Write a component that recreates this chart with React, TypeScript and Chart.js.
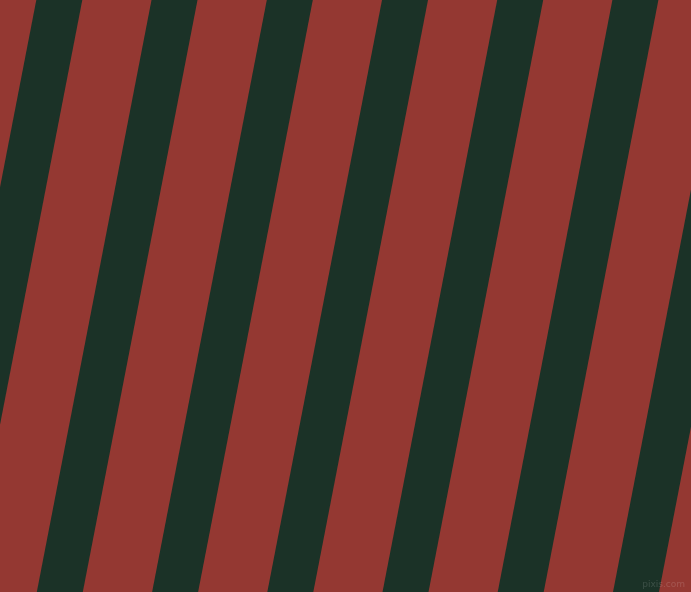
import React, { useEffect, useRef } from 'react';
import Chart, { ChartConfiguration, Plugin } from 'chart.js/auto';

// x position (px) of each green band's edges along the top row
const bandLeftTop = [-78.9, 36.3, 151.5, 266.8, 382.0, 497.2, 612.4, 727.7];
const bandRightTop = [-32.9, 82.3, 197.5, 312.8, 428.0, 543.2, 658.4, 773.7];
// how far every edge has drifted left by the bottom row
const bottomDrift = 114.7;
const rowLabels = [0, 592];
const watermark = 'pixis.com';

const RED = '#943832';
const GREEN = '#1b3227';

const watermarkPlugin: Plugin<'line'> = {
  id: 'watermark',
  afterDraw(chart) {
    const { ctx } = chart;
    ctx.save();
    ctx.font = '9px "DejaVu Sans", sans-serif';
    ctx.fillStyle = 'rgba(255,255,255,0.14)';
    ctx.textAlign = 'right';
    ctx.textBaseline = 'alphabetic';
    ctx.fillText(watermark, 685, 587);
    ctx.restore();
  },
};

const StripeChart: React.FC = () => {
  const chartRef = useRef<Chart<'line'>>();
  const canvasRef = useRef<HTMLCanvasElement>(null);

  useEffect(() => {
    const canvas = canvasRef.current;
    if (!canvas) return;
    if (chartRef.current) chartRef.current.destroy();

    const edge = (topX: number) => [
      { x: topX, y: rowLabels[0] },
      { x: topX - bottomDrift, y: rowLabels[1] },
    ];

    const datasets: any[] = [];
    bandLeftTop.forEach((left, i) => {
      datasets.push({
        data: edge(left),
        borderWidth: 0,
        pointRadius: 0,
        fill: false,
      });
      datasets.push({
        data: edge(bandRightTop[i]),
        borderWidth: 0,
        pointRadius: 0,
        backgroundColor: GREEN,
        fill: '-1',
      });
    });

    const config: ChartConfiguration<'line'> = {
      type: 'line',
      data: { datasets },
      options: {
        indexAxis: 'y',
        responsive: false,
        animation: false,
        devicePixelRatio: 1,
        layout: { padding: 0 },
        scales: {
          x: { type: 'linear', min: 0, max: 691, display: false },
          y: { type: 'linear', min: 0, max: 592, reverse: true, display: false },
        },
        plugins: {
          legend: { display: false },
          tooltip: { enabled: false },
          title: { display: false },
        },
      },
      plugins: [watermarkPlugin],
    };

    chartRef.current = new Chart(canvas, config);

    return () => {
      if (chartRef.current) {
        chartRef.current.destroy();
        chartRef.current = undefined;
      }
    };
  }, []);

  return (
    <canvas
      ref={canvasRef}
      width={691}
      height={592}
      style={{ display: 'block', background: RED }}
    />
  );
};

export default function App() {
  return (
    <div style={{ position: 'fixed', left: 0, top: 0, width: 691, height: 592, background: RED }}>
      <StripeChart />
    </div>
  );
}
